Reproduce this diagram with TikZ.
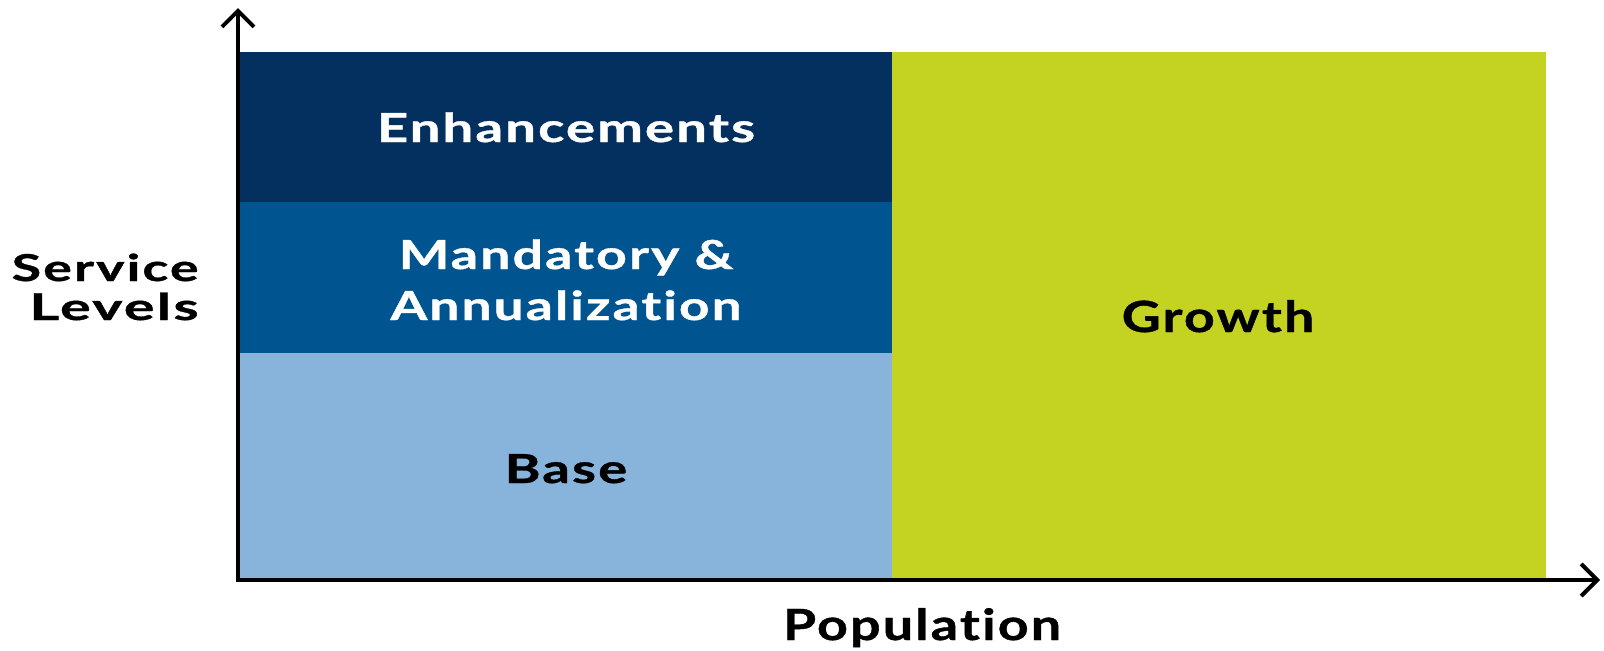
\documentclass[tikz,border=0pt]{standalone}
\usepackage{graphicx}
\usepackage{fontspec}
\setmainfont{Lato}[LetterSpace=4,Ligatures=NoCommon,BoldFeatures={FakeBold=0.8}]
\usetikzlibrary{arrows.meta}
\definecolor{enhblue}{HTML}{04305F}
\definecolor{mandblue}{HTML}{00548F}
\definecolor{baseblue}{HTML}{88B3DA}
\definecolor{growgreen}{HTML}{C4D221}
% horizontally widened label text
\newcommand\widen[2]{\scalebox{#1}[1]{#2}}
\begin{document}
\begin{tikzpicture}[x=0.5pt,y=-0.5pt,
  lbl/.style={font=\bfseries\fontsize{20}{24}\selectfont, anchor=base, inner sep=0pt},
  biglbl/.style={font=\bfseries\fontsize{21.5}{26}\selectfont, anchor=base, inner sep=0pt},
  axislbl/.style={font=\bfseries\fontsize{18.5}{22}\selectfont, anchor=base east, inner sep=0pt},
  axis/.style={line width=2pt, -{Straight Barb[length=8pt,width=16pt]}}]
\useasboundingbox (0,0) rectangle (1604,650);
% stacked blocks
\fill[baseblue] (238,353) rectangle (892,580);
\fill[mandblue] (238,202) rectangle (892,353);
\fill[enhblue]  (238,52)  rectangle (892,202);
\fill[growgreen] (892,52) rectangle (1546,580);
% block labels
\node[lbl, text=white] (enh) at (566,142) {\widen{1.36}{Enhancements}};
\node[lbl, text=white] (mand) at (566,269) {\widen{1.34}{Mandatory \&}};
\node[lbl, text=white] (ann) at (566,320) {\widen{1.33}{Annualization}};
\node[lbl, text=black] (base) at (566,483) {\widen{1.36}{Base}};
\node[biglbl, text=black] (grow) at (1218,332) {\widen{1.25}{Growth}};
% axes
\coordinate (origin) at (238,580);
\coordinate (ytip) at (238,8);
\coordinate (xtip) at (1600,580);
\draw[axis] (origin) -- (ytip);
\draw[axis] ([xshift=-1pt]origin) -- (xtip);
% axis titles
\node[axislbl] (svc) at (199,281) {\widen{1.45}{Service}};
\node[axislbl] (lev) at (199,320) {\widen{1.55}{Levels}};
\node[biglbl, text=black] (pop) at (922,640) {\widen{1.25}{Population}};
\end{tikzpicture}
\end{document}
